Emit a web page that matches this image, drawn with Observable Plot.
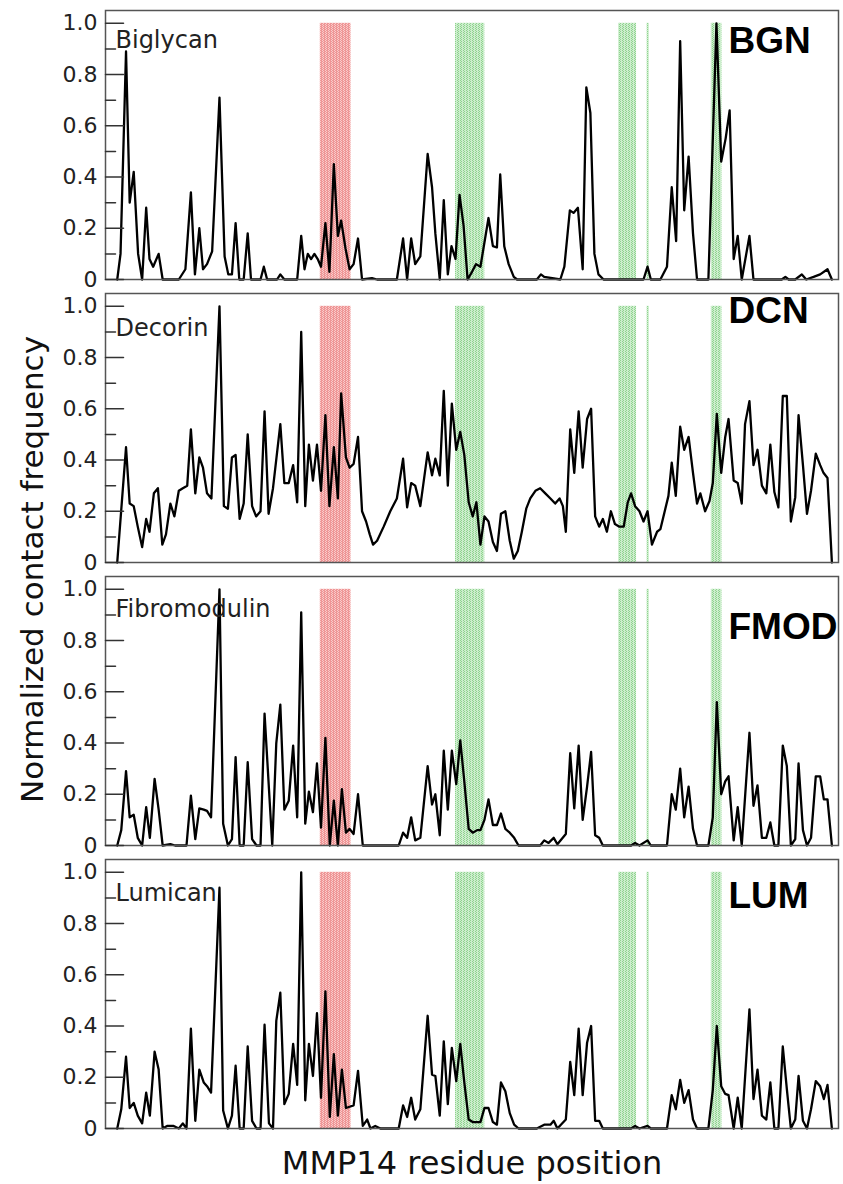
<!DOCTYPE html>
<html><head><meta charset="utf-8">
<script src="https://cdn.jsdelivr.net/npm/d3@7"></script>
<script src="https://cdn.jsdelivr.net/npm/@observablehq/plot@0.6"></script>
<style>body{margin:0;background:#fff}</style>
</head><body><div id="chart"></div>
<script>
// ---- data: [residue index, normalized contact frequency] ----
const proteins = ["BGN", "DCN", "FMOD", "LUM"];
const proteinNames = ["Biglycan", "Decorin", "Fibromodulin", "Lumican"];

const bgn = [[3.2,0],[4.1,0.10],[5.6,0.89],[6.6,0.30],[7.7,0.42],[8.9,0.10],[10.0,0],[11.1,0.28],[12.0,0.08],[13.0,0.05],[14.5,0.10],[15.6,0],[20.0,0],[21.8,0.04],[23.3,0.34],[24.4,0.02],[25.6,0.20],[26.6,0.04],[27.7,0.06],[29.1,0.11],[31.1,0.71],[32.5,0.09],[33.5,0.02],[34.5,0.02],[35.5,0.22],[36.5,0],[37.7,0],[38.8,0.18],[39.7,0],[42.3,0],[43.2,0.05],[44.1,0],[46.8,0],[47.7,0.02],[48.8,0],[52.3,0],[53.4,0.17],[54.3,0.04],[55.2,0.10],[56.1,0.08],[57.0,0.10],[57.9,0.08],[58.8,0.05],[60.0,0.22],[61.1,0.03],[62.3,0.45],[63.4,0.17],[64.3,0.23],[65.5,0.12],[66.6,0.04],[67.7,0.06],[68.9,0.16],[70.0,0],[72.7,0.005],[74.1,0],[79.5,0],[81.2,0.16],[82.3,0],[83.4,0.16],[84.5,0.06],[85.9,0.09],[87.9,0.49],[89.1,0.36],[90.0,0.18],[91.2,0],[92.3,0.31],[93.4,0.02],[94.4,0.13],[95.5,0.08],[96.6,0.33],[97.7,0.21],[98.8,0],[100.0,0.03],[101.1,0.06],[102.3,0.05],[104.5,0.24],[105.7,0.13],[106.8,0.125],[107.7,0.41],[108.8,0.13],[110.0,0.06],[111.4,0.01],[112.3,0],[117.7,0],[118.8,0.02],[119.7,0.01],[124.1,0],[125.2,0.05],[126.7,0.27],[127.7,0.26],[128.9,0.28],[130.2,0.04],[131.2,0.75],[132.3,0.65],[133.4,0.10],[134.5,0.02],[135.9,0],[146.8,0],[147.9,0.05],[148.8,0],[151.4,0],[153.2,0.05],[154.5,0.36],[155.7,0.15],[156.8,0.93],[157.9,0.27],[159.1,0.48],[160.3,0.18],[161.4,0],[164.5,0],[166.7,1.0],[168.0,0.46],[169.2,0.55],[170.3,0.66],[171.4,0.08],[172.5,0.17],[173.6,0],[175.7,0.17],[176.8,0],[184.5,0],[185.5,0.01],[186.4,0],[188.2,0],[190.0,0.02],[191.2,0],[193.2,0.01],[195.0,0.02],[197.0,0.04],[198.2,0]];

const dcn = [[3.2,0],[5.6,0.45],[6.6,0.23],[7.7,0.22],[8.8,0.14],[10.0,0.06],[11.1,0.17],[12.0,0.12],[13.2,0.27],[14.3,0.29],[15.5,0.07],[16.5,0.11],[17.7,0.23],[18.8,0.18],[20.0,0.28],[21.1,0.29],[22.3,0.30],[23.3,0.52],[24.5,0.27],[25.6,0.41],[26.6,0.37],[27.7,0.27],[28.9,0.25],[31.1,1.0],[32.3,0.22],[33.4,0.21],[34.5,0.41],[35.5,0.42],[36.6,0.17],[37.7,0.23],[38.8,0.50],[40.0,0.22],[41.1,0.18],[42.3,0.20],[43.4,0.59],[44.5,0.19],[45.7,0.29],[47.7,0.54],[48.8,0.31],[50.0,0.31],[51.2,0.38],[52.3,0.235],[53.4,0.90],[54.5,0.22],[55.5,0.46],[56.6,0.32],[57.7,0.46],[58.8,0.28],[60.0,0.575],[61.1,0.22],[62.3,0.45],[63.4,0.25],[64.3,0.66],[65.6,0.41],[66.6,0.37],[67.7,0.385],[68.9,0.49],[70.0,0.20],[71.1,0.16],[72.1,0.11],[73.0,0.07],[74.1,0.085],[75.9,0.14],[77.7,0.20],[79.5,0.25],[81.2,0.405],[82.3,0.215],[83.4,0.31],[84.5,0.30],[85.9,0.22],[87.9,0.43],[89.1,0.34],[90.0,0.405],[91.2,0.34],[92.3,0.67],[93.4,0.30],[94.5,0.62],[95.7,0.44],[96.8,0.51],[97.9,0.42],[99.1,0.235],[100.2,0.18],[101.2,0.235],[102.3,0.07],[103.4,0.18],[104.5,0.16],[105.7,0.08],[106.8,0.045],[107.9,0.19],[109.1,0.20],[110.3,0.085],[111.4,0.015],[112.5,0.045],[113.6,0.12],[114.8,0.21],[115.9,0.25],[117.3,0.28],[118.6,0.29],[120.0,0.27],[121.4,0.25],[122.7,0.23],[123.9,0.25],[124.8,0.22],[125.6,0.12],[126.8,0.52],[127.9,0.35],[129.1,0.59],[130.2,0.37],[131.4,0.56],[132.5,0.60],[133.6,0.18],[134.7,0.14],[135.7,0.17],[136.8,0.12],[137.9,0.20],[139.0,0.15],[140.2,0.14],[141.4,0.14],[142.5,0.235],[143.4,0.27],[144.5,0.22],[145.7,0.20],[146.8,0.16],[147.9,0.20],[149.1,0.07],[150.5,0.12],[151.4,0.13],[153.6,0.26],[154.5,0.39],[155.6,0.26],[156.8,0.53],[157.9,0.44],[159.1,0.49],[160.3,0.35],[161.4,0.23],[162.3,0.27],[163.6,0.20],[164.8,0.24],[165.7,0.31],[166.8,0.58],[168.0,0.35],[169.1,0.49],[170.0,0.56],[171.4,0.32],[172.5,0.31],[173.6,0.23],[174.5,0.54],[175.7,0.63],[176.8,0.38],[177.9,0.44],[179.1,0.30],[180.3,0.27],[181.4,0.46],[182.5,0.275],[183.6,0.215],[184.8,0.65],[185.9,0.65],[187.0,0.16],[188.2,0.255],[189.1,0.575],[190.3,0.38],[191.4,0.19],[192.5,0.28],[193.8,0.425],[195.0,0.38],[195.9,0.35],[197.0,0.33],[198.2,0]];

const fmod = [[3.2,0],[4.3,0.06],[5.6,0.29],[6.6,0.11],[7.7,0.12],[8.8,0.03],[10.0,0],[11.1,0.15],[12.1,0.03],[13.4,0.26],[14.5,0.14],[15.6,0],[17.7,0.005],[19.0,0],[22.1,0],[23.3,0.195],[24.5,0.025],[25.6,0.145],[26.8,0.14],[27.7,0.135],[28.8,0.11],[31.1,1.0],[32.1,0.085],[33.4,0],[34.5,0.025],[35.5,0.345],[36.6,0],[37.7,0],[38.8,0.325],[40.0,0.025],[41.2,0],[42.3,0],[43.4,0.515],[45.5,0],[46.6,0.40],[47.7,0.55],[48.8,0.14],[50.0,0.175],[51.2,0.39],[52.3,0.11],[53.4,0.91],[54.5,0.085],[55.5,0.21],[56.6,0.13],[57.7,0.32],[58.8,0.07],[60.0,0.42],[61.2,0],[62.3,0.175],[63.4,0],[64.5,0.22],[65.6,0.05],[66.6,0.065],[67.7,0.045],[68.9,0.20],[70.2,0],[80.0,0],[81.2,0.05],[82.3,0.03],[83.4,0.11],[84.5,0.02],[85.9,0.03],[87.9,0.31],[89.1,0.16],[90.0,0.20],[91.2,0.04],[92.3,0.37],[93.4,0.14],[94.5,0.37],[95.7,0.24],[96.8,0.41],[97.9,0.25],[99.1,0.065],[100.2,0.05],[101.4,0.06],[102.3,0.06],[103.4,0.10],[104.5,0.18],[105.7,0.08],[106.8,0.08],[107.9,0.125],[109.1,0.065],[110.3,0.05],[111.5,0.03],[112.7,0],[118.6,0],[119.7,0.02],[120.9,0.01],[122.3,0.03],[123.3,0.005],[125.6,0.045],[126.8,0.36],[127.9,0.145],[129.1,0.39],[130.2,0.10],[131.4,0.23],[132.5,0.365],[133.6,0.04],[134.7,0.03],[135.7,0],[143.4,0],[144.5,0.01],[145.7,0],[147.9,0.02],[148.8,0],[153.2,0],[154.5,0.20],[155.6,0.14],[156.8,0.30],[157.9,0.11],[159.1,0.23],[160.3,0.065],[161.4,0],[164.5,0],[165.7,0.11],[166.8,0.56],[168.0,0.20],[169.1,0.25],[170.0,0.27],[171.4,0.02],[172.5,0.15],[173.6,0],[175.7,0.44],[176.8,0.155],[177.9,0.235],[179.1,0.03],[180.3,0.03],[181.4,0.09],[182.5,0],[183.6,0],[184.8,0.39],[185.9,0.31],[187.0,0],[188.2,0.025],[189.1,0.32],[190.3,0.06],[191.4,0],[192.5,0.03],[193.8,0.27],[195.0,0.27],[196.0,0.18],[197.0,0.18],[198.2,0]];

const lum = [[3.2,0],[4.3,0.075],[5.6,0.28],[6.6,0.08],[7.7,0.10],[8.8,0.05],[10.0,0.02],[11.1,0.14],[12.1,0.05],[13.4,0.30],[14.5,0.23],[15.6,0],[16.8,0.01],[18.6,0.01],[20.0,0],[21.1,0.02],[22.1,0],[23.3,0.39],[24.5,0.03],[25.6,0.23],[26.8,0.18],[27.7,0.165],[28.8,0.14],[31.1,0.94],[32.1,0.07],[33.4,0],[34.5,0.05],[35.5,0.245],[36.6,0],[37.7,0],[38.8,0.32],[40.0,0.03],[41.2,0],[42.3,0],[43.4,0.405],[44.6,0.02],[45.7,0],[46.6,0.42],[47.7,0.53],[48.8,0.095],[50.0,0.135],[51.2,0.33],[52.3,0.17],[53.4,1.0],[54.5,0.11],[55.5,0.33],[56.6,0.205],[57.7,0.45],[58.8,0.12],[60.0,0.535],[61.2,0.045],[62.3,0.29],[63.4,0.05],[64.5,0.23],[65.6,0.08],[66.6,0.085],[67.7,0.09],[68.9,0.225],[70.2,0.01],[71.4,0.035],[72.3,0],[73.6,0.01],[75.0,0],[80.0,0],[81.2,0.09],[82.3,0.045],[83.4,0.12],[84.5,0.035],[85.9,0.075],[87.9,0.44],[89.1,0.21],[90.0,0.205],[91.2,0.05],[92.3,0.34],[93.4,0.095],[94.5,0.315],[95.7,0.185],[96.8,0.33],[97.9,0.18],[99.1,0.035],[100.2,0.025],[102.3,0.025],[103.4,0.08],[104.5,0.08],[105.7,0.025],[106.8,0.015],[107.9,0.18],[109.1,0.145],[110.3,0.06],[111.5,0.015],[112.7,0],[117.7,0],[119.7,0.015],[121.4,0.015],[122.3,0.03],[123.3,0],[125.6,0.035],[126.8,0.26],[127.9,0.13],[129.1,0.39],[130.2,0.13],[131.4,0.335],[132.5,0.40],[133.6,0.03],[134.7,0.03],[135.7,0],[143.4,0],[144.5,0.01],[145.7,0],[147.9,0.01],[148.8,0],[153.2,0],[154.5,0.13],[155.6,0.075],[156.8,0.19],[157.9,0.10],[159.1,0.15],[160.3,0.035],[161.4,0],[164.5,0],[165.7,0.15],[166.8,0.40],[168.0,0.165],[169.1,0.135],[170.0,0.13],[171.4,0],[172.5,0.12],[173.6,0],[175.7,0.465],[176.8,0.115],[177.9,0.23],[179.1,0.05],[180.3,0.035],[181.4,0.18],[182.5,0],[183.6,0],[184.8,0.32],[185.9,0.155],[187.0,0],[188.2,0.035],[189.1,0.205],[190.3,0.03],[191.4,0],[192.5,0.075],[193.8,0.185],[195.0,0.165],[196.0,0.115],[197.0,0.17],[198.2,0]];

// highlighted residue ranges
const bandStart = [58.6, 95.5, 140.0, 147.8, 165.3];
const bandEnd   = [67.0, 103.5, 144.9, 148.4, 168.2];
const bandKind  = ["R", "G", "G", "G", "G"];

const yMajor = [0, 0.2, 0.4, 0.6, 0.8, 1.0];
const yMinor = [0.1, 0.3, 0.5, 0.7, 0.9];

// ---- layout (positions kept separate from data) ----
const nameY = {BGN: 0.905, DCN: 0.886, FMOD: 0.89, LUM: 0.887};
const codeY = {BGN: 0.883, DCN: 0.936, FMOD: 0.807, LUM: 0.861};

// ---- build tables ----
const seriesByProtein = {BGN: bgn, DCN: dcn, FMOD: fmod, LUM: lum};
const rows = proteins.flatMap(p => seriesByProtein[p].map(([r, v]) => ({protein: p, residue: r, value: v})));
const bands = bandStart.map((s, i) => ({start: s, end: bandEnd[i], kind: bandKind[i]}));
const panels = proteins.map((p, i) => ({code: p, name: proteinNames[i]}));

// dotted fill patterns for the highlighted ranges
function patternDefs() {
  const ns = "http://www.w3.org/2000/svg";
  const defs = document.createElementNS(ns, "defs");
  const make = (id, base, dot) => {
    const p = document.createElementNS(ns, "pattern");
    p.setAttribute("id", id);
    p.setAttribute("patternUnits", "userSpaceOnUse");
    p.setAttribute("width", "3");
    p.setAttribute("height", "2");
    const bg = document.createElementNS(ns, "rect");
    bg.setAttribute("width", "3"); bg.setAttribute("height", "2"); bg.setAttribute("fill", base);
    const d = document.createElementNS(ns, "rect");
    d.setAttribute("x", "1"); d.setAttribute("width", "1"); d.setAttribute("height", "1"); d.setAttribute("fill", dot);
    const d2 = document.createElementNS(ns, "rect");
    d2.setAttribute("x", "2"); d2.setAttribute("y", "1"); d2.setAttribute("width", "1"); d2.setAttribute("height", "1"); d2.setAttribute("fill", dot);
    p.append(bg, d, d2);
    defs.append(p);
  };
  make("redDots", "#ef9696", "#f9cccc");
  make("greenDots", "#cdeecd", "#8fd28f");
  return defs;
}

const tickShape = {draw(context, l) { context.moveTo(0, 0); context.lineTo(0, -l); }};

const chart = Plot.plot({
  width: 843,
  height: 1184,
  marginTop: 10,
  marginBottom: 56,
  marginLeft: 105,
  marginRight: 5,
  style: {fontFamily: "'DejaVu Sans', sans-serif", background: "white", color: "#222"},
  x: {domain: [0, 200], axis: null},
  y: {domain: [0, 1.05], axis: null},
  fy: {domain: proteins, axis: null, paddingInner: 0.0495, paddingOuter: 0},
  marks: [
    patternDefs,
    Plot.rect(bands.filter(d => d.kind === "R"), {x1: "start", x2: "end", y1: 0, y2: 1, fill: "url(#redDots)"}),
    Plot.rect(bands.filter(d => d.kind === "G"), {x1: "start", x2: "end", y1: 0, y2: 1, fill: "url(#greenDots)"}),
    Plot.line(rows, {x: "residue", y: "value", fy: "protein", stroke: "black", strokeWidth: 2.3, strokeLinejoin: "round"}),
    Plot.frame({stroke: "#555", strokeWidth: 1.5}),
    Plot.axisY(yMajor, {tickSize: 0, tickPadding: 8, tickFormat: d => d === 0 ? "0" : d.toFixed(1), fontSize: 22, fill: "#222", label: null}),
    Plot.vector(yMajor, {y: d => d, frameAnchor: "left", length: 18, rotate: 90, anchor: "start", shape: tickShape, stroke: "#333", strokeWidth: 1.5}),
    Plot.vector(yMinor, {y: d => d, frameAnchor: "left", length: 10, rotate: 90, anchor: "start", shape: tickShape, stroke: "#333", strokeWidth: 1.5}),
    Plot.text(panels, {fy: "code", y: d => nameY[d.code], text: "name", frameAnchor: "left", dx: 10, textAnchor: "start", lineAnchor: "bottom", fontSize: 24, fill: "#222"}),
    Plot.text(panels, {fy: "code", y: d => codeY[d.code], text: "code", frameAnchor: "right", dx: -110, textAnchor: "start", lineAnchor: "bottom", fontSize: 37, fontWeight: "bold", fontFamily: "'Liberation Sans', Arial, sans-serif", fill: "black"}),
    Plot.text([{fy: "DCN", t: "Normalized contact frequency"}], {fy: "fy", text: "t", frameAnchor: "bottom-left", dx: -63, dy: 7, rotate: -90, textAnchor: "middle", lineAnchor: "bottom", fontSize: 31, fill: "#111"}),
    Plot.text([{fy: "LUM", t: "MMP14 residue position"}], {fy: "fy", text: "t", frameAnchor: "bottom", dy: 45, textAnchor: "middle", lineAnchor: "bottom", fontSize: 32, fill: "#111"})
  ]
});
document.getElementById("chart").appendChild(chart);
</script>
</body></html>
